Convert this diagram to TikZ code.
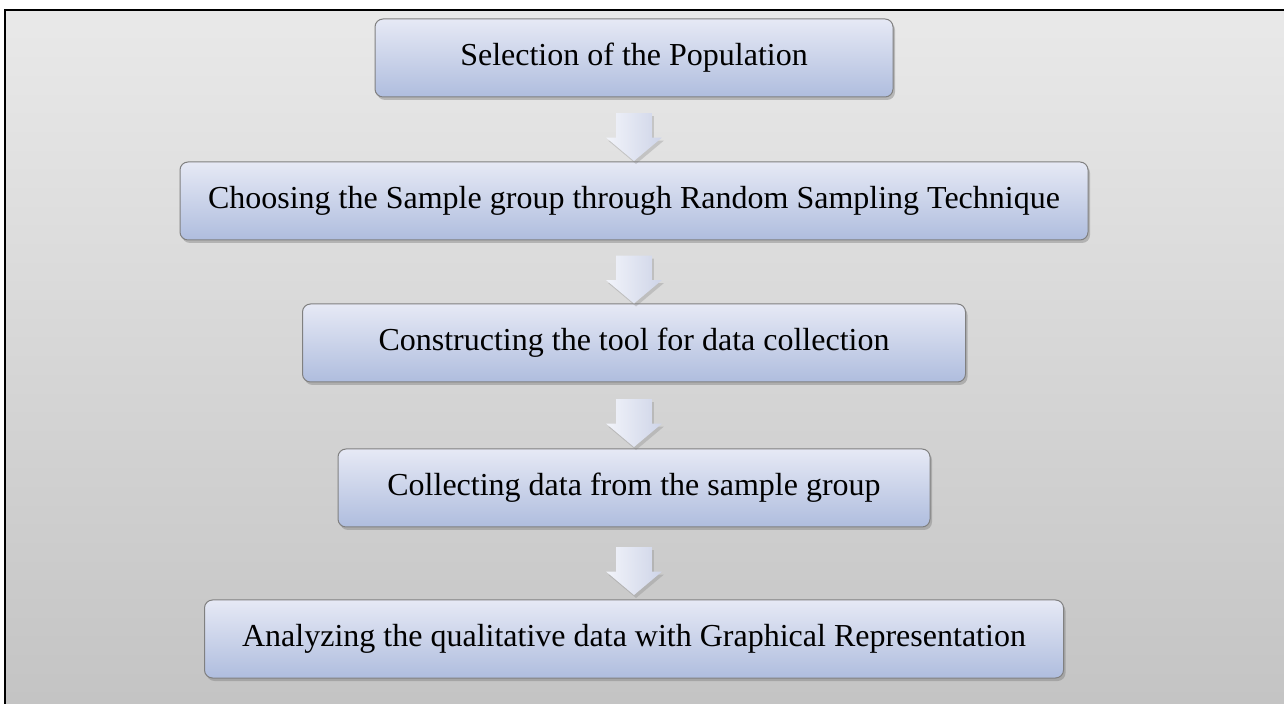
\documentclass[tikz,border=0pt]{standalone}
\usepackage{fontspec}
\setmainfont{Liberation Serif}
\usetikzlibrary{shapes.arrows,shadows}
\definecolor{fondhaut}{RGB}{233,233,233}
\definecolor{fondbas}{RGB}{195,195,195}
\definecolor{boitehaut}{RGB}{230,233,245}
\definecolor{boitebas}{RGB}{175,189,222}
\definecolor{flechehaut}{RGB}{242,244,250}
\definecolor{flechebas}{RGB}{206,212,232}
\begin{document}
\begin{tikzpicture}[x=0.5pt, y=-0.5pt,
  etape/.style={draw=black!50, line width=0.5pt, rounded corners=4pt,
    top color=boitehaut, bottom color=boitebas, minimum height=39pt,
    font=\fontsize{16}{19}\selectfont,
    drop shadow={opacity=0.45, shadow xshift=1pt, shadow yshift=-1.5pt}},
  fleche/.style={single arrow, rotate=-90, inner xsep=0pt, inner ysep=8.75pt,
    minimum height=24pt, single arrow head extend=5pt, single arrow tip angle=100,
    single arrow head indent=0pt, left color=flechehaut, right color=flechebas,
    drop shadow={opacity=0.3, shadow xshift=1pt, shadow yshift=-1.5pt}}]
\useasboundingbox (0,0) rectangle (1284,704);
\draw[line width=1pt, top color=fondhaut, bottom color=fondbas] (5,10) rectangle (1300,720);
\foreach \i/\y/\w/\txt in {0/58/518/Selection of the Population,
    1/201/908/Choosing the Sample group through Random Sampling Technique,
    2/343/663/Constructing the tool for data collection,
    3/488/592/Collecting data from the sample group,
    4/639/859/Analyzing the qualitative data with Graphical Representation}
  \node[etape, minimum width=\w*0.5pt] (b\i) at (634, \y) {\txt};
\foreach \i in {1,2,3,4}
  {\pgfmathsetmacro\j{int(\i - 1)}
  \path (b\j.south) -- (b\i.north) node[fleche, midway] (f\i) {};};
\end{tikzpicture}
\end{document}
